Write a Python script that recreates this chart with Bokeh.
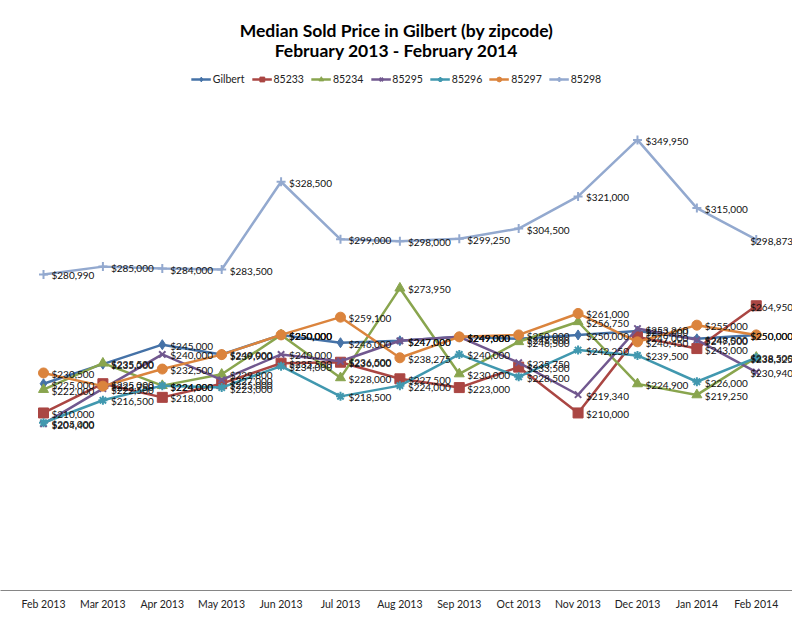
from bokeh.plotting import figure
from bokeh.models import (ColumnDataSource, Range1d, FixedTicker, Legend, LegendItem,
                          Label, LabelSet)
from bokeh.embed import file_html
from bokeh.resources import INLINE
from bokeh.core.properties import value

title_lines = ["Median Sold Price in Gilbert (by zipcode)", "February 2013 - February 2014"]

months = ["Feb 2013", "Mar 2013", "Apr 2013", "May 2013", "Jun 2013", "Jul 2013",
          "Aug 2013", "Sep 2013", "Oct 2013", "Nov 2013", "Dec 2013", "Jan 2014", "Feb 2014"]

gilbert = [225000, 235000, 245000, 240000, 250000, 246000, 247000, 249000, 248000, 250000, 252000, 248000, 250000]
z85233 = [210000, 225000, 218000, 225000, 235500, 236000, 227500, 223000, 233500, 210000, 249000, 243000, 264950]
z85234 = [222000, 235500, 224000, 229800, 250000, 228000, 273950, 230000, 246500, 256750, 224900, 219250, 238500]
z85295 = [204400, 222500, 240000, 227000, 240000, 236500, 247000, 249000, 235750, 219340, 253260, 247500, 230940]
z85296 = [205000, 216500, 224000, 223000, 234000, 218500, 224000, 240000, 228500, 242250, 239500, 226000, 238325]
z85297 = [230500, 223750, 232500, 239900, 250000, 259100, 238275, 249000, 250000, 261000, 246450, 255000, 250000]
z85298 = [280990, 285000, 284000, 283500, 328500, 299000, 298000, 299250, 304500, 321000, 349950, 315000, 298873]

names = ["Gilbert", "85233", "85234", "85295", "85296", "85297", "85298"]
series = [gilbert, z85233, z85234, z85295, z85296, z85297, z85298]
colors = ["#4572A7", "#AA4643", "#89A54E", "#71588F", "#4198AF", "#DB843D", "#93A9CF"]
markers = ["diamond", "square", "triangle", "x", "asterisk", "circle", "cross"]
msizes = [10, 10, 10, 9, 9, 10, 9]

xs = list(range(len(months)))

p = figure(width=792, height=612, x_range=Range1d(-0.724, 12.61),
           y_range=Range1d(119000, 421400), output_backend="svg", toolbar_location=None,
           title=None, min_border_left=0, min_border_right=0, min_border_top=0,
           min_border_bottom=0)
p.background_fill_color = "white"
p.border_fill_color = "white"
p.outline_line_color = None
p.xgrid.visible = False
p.ygrid.visible = False
p.yaxis.visible = False

p.xaxis.ticker = FixedTicker(ticks=xs)
p.xaxis.major_label_overrides = {i: m for i, m in zip(xs, months)}
p.xaxis.axis_line_color = "#868686"
p.xaxis.major_tick_line_color = None
p.xaxis.minor_tick_line_color = None
p.xaxis.major_tick_out = 0
p.xaxis.major_tick_in = 0
p.xaxis.major_label_text_font = "Lato"
p.xaxis.major_label_text_font_size = "10.5px"
p.xaxis.major_label_text_color = "#222222"
p.xaxis.major_label_standoff = 7

items = []
for name, vals, col, mk, ms in zip(names, series, colors, markers, msizes):
    src = ColumnDataSource(dict(
        x=xs, y=vals,
        label=["${:,}".format(v) for v in vals],
        xoff=[8] * (len(vals) - 1) + [-6],
    ))
    ln = p.line("x", "y", source=src, line_color=col, line_width=2.5)
    sc = p.scatter("x", "y", source=src, marker=mk, size=ms, fill_color=col,
                   line_color=col, line_width=2 if mk in ("x", "asterisk", "cross") else 1)
    labels = LabelSet(x="x", y="y", text="label", source=src, x_offset="xoff", y_offset=-1,
                      text_font=value("Lato"), text_font_size="10px", text_color="#111111",
                      text_baseline="middle", text_align="left")
    p.add_layout(labels)
    items.append(LegendItem(label=name, renderers=[ln, sc]))

legend = Legend(items=items, orientation="horizontal", location="top_center",
                label_text_font="Lato", label_text_font_size="10.5px",
                label_text_color="#222222", glyph_width=20, glyph_height=12,
                label_standoff=2, spacing=7, padding=2, margin=73,
                border_line_color=None, background_fill_alpha=0)
p.add_layout(legend)

for line_text, ypos in zip(title_lines, [560, 540]):
    p.add_layout(Label(x=396, y=ypos, x_units="screen", y_units="screen", text=line_text,
                       text_align="center", text_baseline="middle", text_font="Lato",
                       text_font_size="17.5px", text_font_style="bold", text_color="#000000"))

open("out.html", "w").write(file_html(p, INLINE))
